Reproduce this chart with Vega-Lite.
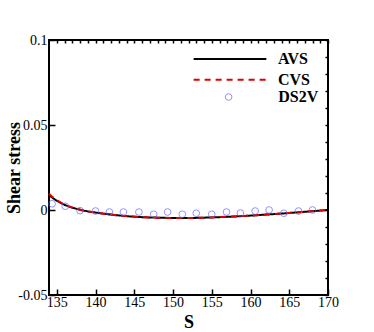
{
  "$schema": "https://vega.github.io/schema/vega-lite/v6.json",
  "width": 279,
  "height": 255,
  "autosize": {"type": "none"},
  "padding": {"left": 49, "top": 40, "right": 46, "bottom": 37},
  "background": "white",
  "config": {
    "view": {"stroke": "black", "strokeWidth": 2},
    "font": "Liberation Serif",
    "axis": {
      "labelFont": "Liberation Serif",
      "labelFontSize": 14,
      "labelColor": "black",
      "titleFont": "Liberation Serif",
      "titleFontSize": 18,
      "titleFontWeight": "bold",
      "titleColor": "black",
      "domain": false,
      "tickColor": "black",
      "tickWidth": 1.5,
      "grid": false,
      "labelFlush": false,
      "labelOverlap": false
    },
    "legend": {
      "orient": "none",
      "padding": 0,
      "labelFont": "Liberation Serif",
      "labelFontSize": 16,
      "labelFontWeight": "bold",
      "labelColor": "black",
      "title": null
    }
  },
  "datasets": {
    "curves": [
      {"S": 134, "tau": 0.0088, "series": "AVS"},
      {"S": 134.5, "tau": 0.0070, "series": "AVS"},
      {"S": 135, "tau": 0.0055, "series": "AVS"},
      {"S": 136, "tau": 0.0031, "series": "AVS"},
      {"S": 137, "tau": 0.0014, "series": "AVS"},
      {"S": 138, "tau": 0.0002, "series": "AVS"},
      {"S": 139, "tau": -0.0008, "series": "AVS"},
      {"S": 140, "tau": -0.0015, "series": "AVS"},
      {"S": 142, "tau": -0.0027, "series": "AVS"},
      {"S": 144, "tau": -0.0036, "series": "AVS"},
      {"S": 146, "tau": -0.0042, "series": "AVS"},
      {"S": 148, "tau": -0.0045, "series": "AVS"},
      {"S": 150, "tau": -0.0047, "series": "AVS"},
      {"S": 152, "tau": -0.0047, "series": "AVS"},
      {"S": 154, "tau": -0.0045, "series": "AVS"},
      {"S": 156, "tau": -0.0042, "series": "AVS"},
      {"S": 158, "tau": -0.0038, "series": "AVS"},
      {"S": 160, "tau": -0.0033, "series": "AVS"},
      {"S": 162, "tau": -0.0027, "series": "AVS"},
      {"S": 164, "tau": -0.0021, "series": "AVS"},
      {"S": 166, "tau": -0.0014, "series": "AVS"},
      {"S": 168, "tau": -0.0007, "series": "AVS"},
      {"S": 170, "tau": 0.0, "series": "AVS"},
      {"S": 134, "tau": 0.0096, "series": "CVS"},
      {"S": 134.5, "tau": 0.0075, "series": "CVS"},
      {"S": 135, "tau": 0.0058, "series": "CVS"},
      {"S": 136, "tau": 0.0032, "series": "CVS"},
      {"S": 137, "tau": 0.0015, "series": "CVS"},
      {"S": 138, "tau": 0.0002, "series": "CVS"},
      {"S": 139, "tau": -0.0008, "series": "CVS"},
      {"S": 140, "tau": -0.0015, "series": "CVS"},
      {"S": 142, "tau": -0.0027, "series": "CVS"},
      {"S": 144, "tau": -0.0036, "series": "CVS"},
      {"S": 146, "tau": -0.0042, "series": "CVS"},
      {"S": 148, "tau": -0.0045, "series": "CVS"},
      {"S": 150, "tau": -0.0047, "series": "CVS"},
      {"S": 152, "tau": -0.0047, "series": "CVS"},
      {"S": 154, "tau": -0.0045, "series": "CVS"},
      {"S": 156, "tau": -0.0042, "series": "CVS"},
      {"S": 158, "tau": -0.0038, "series": "CVS"},
      {"S": 160, "tau": -0.0033, "series": "CVS"},
      {"S": 162, "tau": -0.0027, "series": "CVS"},
      {"S": 164, "tau": -0.0021, "series": "CVS"},
      {"S": 166, "tau": -0.0014, "series": "CVS"},
      {"S": 168, "tau": -0.0007, "series": "CVS"},
      {"S": 170, "tau": 0.0, "series": "CVS"}
    ],
    "dsmc": [
      {"S": 134.4, "tau": 0.0037, "series": "DS2V"},
      {"S": 136.1, "tau": 0.0022, "series": "DS2V"},
      {"S": 138.0, "tau": -0.0004, "series": "DS2V"},
      {"S": 140.0, "tau": -0.0006, "series": "DS2V"},
      {"S": 141.8, "tau": -0.0012, "series": "DS2V"},
      {"S": 143.6, "tau": -0.0012, "series": "DS2V"},
      {"S": 145.6, "tau": -0.0012, "series": "DS2V"},
      {"S": 147.5, "tau": -0.0025, "series": "DS2V"},
      {"S": 149.3, "tau": -0.0012, "series": "DS2V"},
      {"S": 151.2, "tau": -0.0025, "series": "DS2V"},
      {"S": 153.0, "tau": -0.0019, "series": "DS2V"},
      {"S": 155.0, "tau": -0.0025, "series": "DS2V"},
      {"S": 156.9, "tau": -0.0012, "series": "DS2V"},
      {"S": 158.7, "tau": -0.0018, "series": "DS2V"},
      {"S": 160.6, "tau": -0.0006, "series": "DS2V"},
      {"S": 162.4, "tau": 0.0, "series": "DS2V"},
      {"S": 164.3, "tau": -0.0019, "series": "DS2V"},
      {"S": 166.2, "tau": -0.0006, "series": "DS2V"},
      {"S": 168.0, "tau": 0.0, "series": "DS2V"}
    ]
  },
  "resolve": {
    "scale": {"color": "independent", "strokeDash": "independent"},
    "axis": {"x": "independent", "y": "independent"},
    "legend": {"color": "independent", "strokeDash": "independent"}
  },
  "layer": [
    {
      "data": {"name": "curves"},
      "mark": {"type": "line", "strokeWidth": 2, "interpolate": "monotone"},
      "encoding": {
        "x": {
          "field": "S", "type": "quantitative",
          "scale": {"domain": [134, 170], "nice": false, "zero": false},
          "axis": {
            "title": "S",
            "values": [135, 140, 145, 150, 155, 160, 165, 170],
            "tickSize": -6,
            "labelPadding": 6,
            "titlePadding": 4
          }
        },
        "y": {
          "field": "tau", "type": "quantitative",
          "scale": {"domain": [-0.05, 0.1], "nice": false, "zero": false},
          "axis": {
            "title": "Shear stress",
            "values": [-0.05, 0, 0.05, 0.1],
            "labelExpr": "replace(format(datum.value, '~g'), '\u2212', '-')",
            "tickSize": -6,
            "labelPadding": 8,
            "titlePadding": -6
          }
        },
        "color": {
          "field": "series", "type": "nominal",
          "scale": {"domain": ["AVS", "CVS"], "range": ["black", "#e00000"]},
          "legend": {
            "legendX": 171,
            "legendY": 9,
            "symbolType": "M-4.2,0H4.2",
            "symbolSize": 300,
            "symbolStrokeWidth": 2,
            "labelOffset": 38,
            "rowPadding": 2.7
          }
        },
        "strokeDash": {
          "field": "series", "type": "nominal",
          "scale": {"domain": ["AVS", "CVS"], "range": [[1, 0], [6, 5]]},
          "legend": {
            "legendX": 171,
            "legendY": 9,
            "symbolType": "M-4.2,0H4.2",
            "symbolSize": 300,
            "symbolStrokeWidth": 2,
            "labelOffset": 38,
            "rowPadding": 2.7
          }
        }
      }
    },
    {
      "data": {"name": "dsmc"},
      "mark": {"type": "point", "filled": false, "strokeWidth": 1, "size": 45},
      "encoding": {
        "x": {
          "field": "S", "type": "quantitative",
          "axis": {
            "title": null,
            "labels": false,
            "values": [135,136,137,138,139,140,141,142,143,144,145,146,147,148,149,150,151,152,153,154,155,156,157,158,159,160,161,162,163,164,165,166,167,168,169,170],
            "tickSize": -3
          }
        },
        "y": {
          "field": "tau", "type": "quantitative",
          "axis": {
            "title": null,
            "labels": false,
            "values": [-0.05,-0.04,-0.03,-0.02,-0.01,0,0.01,0.02,0.03,0.04,0.05,0.06,0.07,0.08,0.09,0.1],
            "tickSize": -3
          }
        },
        "color": {
          "field": "series", "type": "nominal",
          "scale": {"domain": ["DS2V"], "range": ["#6666ff"]},
          "legend": {
            "legendX": 171.6,
            "legendY": 49,
            "symbolType": "circle",
            "symbolSize": 45,
            "symbolStrokeWidth": 1,
            "symbolFillColor": "transparent",
            "labelOffset": 41.7
          }
        }
      }
    }
  ]
}
